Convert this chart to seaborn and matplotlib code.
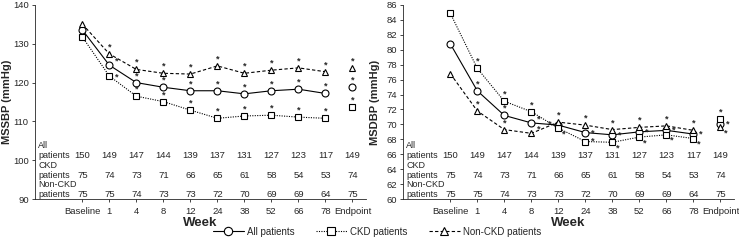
import numpy as np
import pandas as pd
import matplotlib
matplotlib.use("Agg")
import matplotlib.pyplot as plt
from matplotlib.lines import Line2D
import seaborn as sns

sns.set_style("ticks")
plt.rcParams['font.family'] = ['Liberation Sans', 'DejaVu Sans']

weeks = ["Baseline", "1", "4", "8", "12", "24", "38", "52", "66", "78", "Endpoint"]

# MSSBP (mmHg)
sbp_all = [133.6, 124.5, 120.0, 118.8, 117.9, 117.9, 117.1, 117.9, 118.3, 117.2, 118.8]
sbp_ckd = [131.8, 121.7, 116.5, 115.1, 112.9, 110.8, 111.4, 111.6, 111.1, 110.8, 113.8]
sbp_non = [135.1, 127.4, 123.4, 122.4, 122.2, 124.3, 122.4, 123.2, 123.8, 122.8, 123.7]

# MSDBP (mmHg)
dbp_all = [80.8, 74.5, 71.2, 70.2, 69.9, 68.9, 68.6, 69.0, 69.2, 68.7, 70.1]
dbp_ckd = [84.9, 77.5, 73.1, 71.7, 69.5, 67.7, 67.6, 68.3, 68.6, 68.1, 70.7]
dbp_non = [76.8, 71.8, 69.3, 68.8, 70.3, 69.9, 69.3, 69.6, 69.8, 69.2, 69.6]

n_all = [150, 149, 147, 144, 139, 137, 131, 127, 123, 117, 149]
n_ckd = [75, 74, 73, 71, 66, 65, 61, 58, 54, 53, 74]
n_non = [75, 75, 74, 73, 73, 72, 70, 69, 69, 64, 75]

pos = np.arange(len(weeks))

styles = {
    "All patients": dict(marker="o", ls="-"),
    "CKD patients": dict(marker="s", ls=(0, (1, 1.2))),
    "Non-CKD patients": dict(marker="^", ls=(0, (3, 2))),
}

# star offsets in points, per series, for weeks 1..Endpoint
up, ur, rt, lr, lf = (0, 5), (5, 3), (5, 0), (4, -4), (-6, 1)
stars_left = {
    "All patients": [ur] + [up] * 9,
    "CKD patients": [(5, -1)] + [up] * 9,
    "Non-CKD patients": [up] * 10,
}
stars_right = {
    "All patients": [up, up, ur, lf, rt, rt, rt, rt, rt, rt],
    "CKD patients": [up, up, up, lr, rt, lr, lr, lr, lr, up],
    "Non-CKD patients": [up, up, ur, up, up, up, up, up, up, lr],
}

fig = plt.figure(figsize=(7.39, 2.43), dpi=100)
ax1 = fig.add_axes([35 / 739, 1 - 199 / 243, 331 / 739, 194 / 243])
ax2 = fig.add_axes([403 / 739, 1 - 199 / 243, 331 / 739, 194 / 243])


def draw(ax, series, stars, ylim, yticks, ylabel):
    for name, vals in series.items():
        st = styles[name]
        df = pd.DataFrame({"x": pos[:-1], "y": vals[:-1]})
        sns.lineplot(data=df, x="x", y="y", ax=ax, color="black", lw=0.8,
                     linestyle=st["ls"], marker=st["marker"], markersize=5,
                     markerfacecolor="white", markeredgecolor="black",
                     markeredgewidth=0.8, sort=False)
        sns.lineplot(x=[pos[-1]], y=[vals[-1]], ax=ax, color="black", lw=0,
                     marker=st["marker"], markersize=5, markerfacecolor="white",
                     markeredgecolor="black", markeredgewidth=0.8)
        for i, off in zip(pos[1:], stars[name]):
            ax.annotate("*", (i, vals[i]), xytext=off, textcoords="offset points",
                        ha="center", va="center", fontsize=6.5, fontweight="bold")
    ax.set_xlim(-1.75, 10.5)
    ax.set_ylim(*ylim)
    ax.set_yticks(yticks)
    ax.set_xticks(pos)
    ax.set_xticklabels(weeks)
    ax.tick_params(axis="both", labelsize=6.8, length=2.5, width=0.6, pad=2)
    ax.tick_params(axis="x", pad=3)
    ax.set_xlabel("Week", fontsize=9.5, fontweight="bold", labelpad=1)
    ax.set_ylabel(ylabel, fontsize=8, fontweight="bold")
    ax.yaxis.set_label_coords(-0.068, 0.5)
    for s in ["left", "bottom"]:
        ax.spines[s].set_linewidth(0.6)
    sns.despine(ax=ax)

    tr = ax.get_xaxis_transform()
    rows = [("All\npatients", n_all, 0.200), ("CKD\npatients", n_ckd, 0.097),
            ("Non-CKD\npatients", n_non, 0.002)]
    for lab, nums, yy in rows:
        ax.text(0.01, yy, lab, transform=ax.transAxes, fontsize=6.5,
                ha="left", va="bottom", linespacing=1.1)
        for i, n in zip(pos, nums):
            ax.text(i, yy, str(n), transform=tr, fontsize=6.8, ha="center", va="bottom")


draw(ax1, {"All patients": sbp_all, "CKD patients": sbp_ckd, "Non-CKD patients": sbp_non},
     stars_left, (90, 140), np.arange(90, 141, 10), "MSSBP (mmHg)")
draw(ax2, {"All patients": dbp_all, "CKD patients": dbp_ckd, "Non-CKD patients": dbp_non},
     stars_right, (60, 86), np.arange(60, 87, 2), "MSDBP (mmHg)")

handles = [Line2D([], [], color="black", lw=0.8, linestyle=st["ls"], marker=st["marker"],
                  markersize=6, markerfacecolor="white", markeredgewidth=0.8)
           for st in styles.values()]
fig.legend(handles, list(styles.keys()), loc="lower center", bbox_to_anchor=(0.51, -0.01),
           ncol=3, frameon=False, fontsize=7, handlelength=3.2, handletextpad=0.3,
           columnspacing=2.2)

fig.savefig("out.png", dpi=100)
